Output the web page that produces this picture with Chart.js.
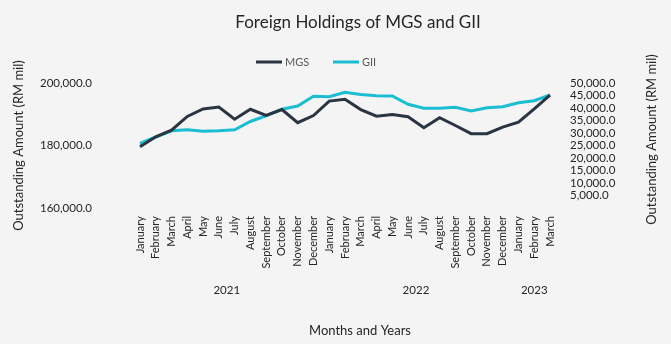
<!DOCTYPE html>
<html lang="en">
<head>
    <meta charset="UTF-8">
    <title>Foreign Holdings of MGS and GII</title>
    <style>
        body {
            margin: 0;
            background-color: #f4f4f4;
            font-family: Lato, Arial, sans-serif;
        }

        .chart-box {
            position: relative;
            width: 671px;
            height: 344px;
        }
    </style>
</head>
<body>
    <div class="chart-box">
        <canvas id="holdingsChart"></canvas>
    </div>
    <script src="https://cdn.jsdelivr.net/npm/chart.js"></script>
    <script>
        // Data, Jan 2021 - Mar 2023 (RM mil)
        const months = [
            'January', 'February', 'March', 'April', 'May', 'June', 'July', 'August',
            'September', 'October', 'November', 'December',
            'January', 'February', 'March', 'April', 'May', 'June', 'July', 'August',
            'September', 'October', 'November', 'December',
            'January', 'February', 'March'
        ];
        const years = ['2021', '2022', '2023'];
        const monthsPerYear = [12, 12, 3];

        const mgs = [
            179600, 182800, 184900, 189300, 191700, 192300, 188400, 191600, 189600,
            191500, 187300, 189600, 194200, 194800, 191500, 189400, 189900, 189200,
            185700, 188900, 186400, 183800, 183800, 185900, 187500, 191700, 196100
        ];
        const gii = [
            25800, 28400, 30900, 31300, 30700, 30900, 31300, 34600, 36900,
            39500, 40800, 44700, 44500, 46300, 45400, 44900, 44800, 41500,
            39900, 39900, 40300, 38800, 40100, 40500, 42100, 42900, 45200
        ];

        const leftTicks = { min: 160000, max: 200000, step: 20000 };
        const rightTicks = { min: 0, max: 50000, step: 5000 };

        const textColor = '#262626';
        const axisTitle = 'Outstanding Amount (RM mil)';
        const fmt = v => v.toLocaleString('en-US', { minimumFractionDigits: 1, maximumFractionDigits: 1 });

        // title, legend, year groups, right and x titles
        const extras = {
            id: 'extras',
            afterDraw(chart) {
                const ctx = chart.ctx;
                const x = chart.scales.x;
                const area = chart.chartArea;
                ctx.save();
                ctx.fillStyle = textColor;
                ctx.textAlign = 'center';
                ctx.textBaseline = 'middle';
                ctx.font = '17px Lato';
                ctx.fillText('Foreign Holdings of MGS and GII', 358, 23);

                // legend
                const items = [[256, chart.data.datasets[0]], [333, chart.data.datasets[1]]];
                ctx.font = '11px Lato';
                ctx.textAlign = 'left';
                items.forEach(([lx, ds]) => {
                    ctx.strokeStyle = ds.borderColor;
                    ctx.lineWidth = 3;
                    ctx.beginPath();
                    ctx.moveTo(lx, 62);
                    ctx.lineTo(lx + 26, 62);
                    ctx.stroke();
                    ctx.fillStyle = '#595959';
                    ctx.fillText(ds.label, lx + 29, 62);
                });

                // years under the month labels
                ctx.fillStyle = textColor;
                ctx.textAlign = 'center';
                ctx.font = '11.5px Lato';
                let start = 0;
                years.forEach((yr, i) => {
                    const end = start + monthsPerYear[i] - 1;
                    const cx = (x.getPixelForValue(start) + x.getPixelForValue(end)) / 2;
                    ctx.fillText(yr, cx, 290);
                    start = end + 1;
                });

                ctx.font = '13px Lato';
                ctx.fillText('Months and Years', 360, 331);

                // right axis title reads bottom to top, like the left one
                ctx.translate(652, (area.top + area.bottom) / 2 - 6);
                ctx.rotate(-Math.PI / 2);
                ctx.fillText(axisTitle, 0, 0);
                ctx.restore();
            }
        };

        const ctx = document.getElementById('holdingsChart').getContext('2d');
        const holdingsChart = new Chart(ctx, {
            type: 'line',
            data: {
                labels: months,
                datasets: [{
                    label: 'MGS',
                    data: mgs,
                    yAxisID: 'y',
                    borderColor: '#2a3442',
                    borderWidth: 3,
                    pointRadius: 0,
                    tension: 0
                }, {
                    label: 'GII',
                    data: gii,
                    yAxisID: 'y1',
                    borderColor: '#1bbdd2',
                    borderWidth: 3,
                    pointRadius: 0,
                    tension: 0
                }]
            },
            options: {
                responsive: true,
                maintainAspectRatio: false,
                animation: false,
                layout: {
                    padding: { top: 83, left: 0, right: 0, bottom: 0 }
                },
                plugins: {
                    legend: { display: false },
                    tooltip: { enabled: false }
                },
                scales: {
                    x: {
                        offset: false,
                        grid: { display: false, drawTicks: false },
                        border: { display: false },
                        ticks: {
                            color: textColor,
                            font: { family: 'Lato', size: 11 },
                            minRotation: 90,
                            maxRotation: 90,
                            autoSkip: false,
                            padding: 8
                        },
                        afterFit: s => { s.height = 136; }
                    },
                    y: {
                        position: 'left',
                        min: leftTicks.min,
                        max: leftTicks.max,
                        grid: { display: false, drawTicks: false },
                        border: { display: false },
                        ticks: {
                            stepSize: leftTicks.step,
                            color: textColor,
                            font: { family: 'Lato', size: 11.5 },
                            padding: 48,
                            callback: v => fmt(v)
                        },
                        title: {
                            display: true,
                            text: axisTitle,
                            color: textColor,
                            font: { family: 'Lato', size: 13 },
                            padding: { top: 11, bottom: 0 }
                        },
                        afterFit: s => { s.width = 140; }
                    },
                    y1: {
                        position: 'right',
                        min: rightTicks.min,
                        max: rightTicks.max,
                        grid: { display: false, drawTicks: false },
                        border: { display: false },
                        ticks: {
                            stepSize: rightTicks.step,
                            autoSkip: false,
                            color: textColor,
                            font: { family: 'Lato', size: 11.5 },
                            padding: 20,
                            callback: v => (v === 0 ? null : fmt(v))
                        },
                        afterFit: s => { s.width = 121; }
                    }
                }
            },
            plugins: [extras]
        });
    </script>
</body>
</html>
